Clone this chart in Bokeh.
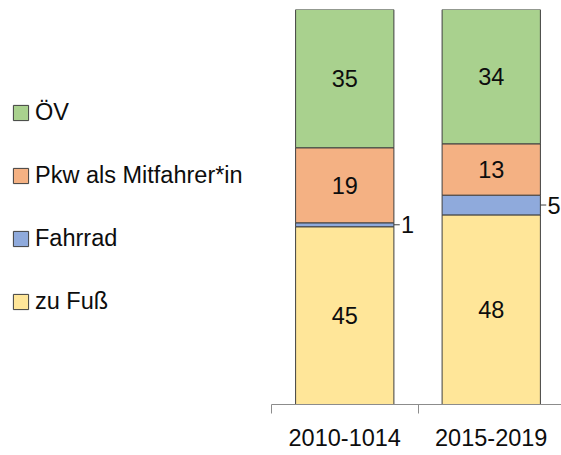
from bokeh.plotting import figure
from bokeh.models import ColumnDataSource, FixedTicker, Legend, LegendItem, Range1d
from bokeh.core.properties import value
from bokeh.embed import file_html
from bokeh.resources import INLINE

# ---- data ----
categories = ["2010-1014", "2015-2019"]
series = ["zu Fuß", "Fahrrad", "Pkw als Mitfahrer*in", "ÖV"]
zu_fuss = [45, 48]
fahrrad = [1, 5]
pkw_mitfahrer = [19, 13]
oev = [35, 34]
colors = ["#FFE699", "#8FAADC", "#F4B183", "#A9D18E"]

values = [zu_fuss, fahrrad, pkw_mitfahrer, oev]
keys = ["s0", "s1", "s2", "s3"]
xpos = [i + 0.5 for i in range(len(categories))]

data = {"x": xpos}
for k, v in zip(keys, values):
    data[k] = v
src = ColumnDataSource(data)

FONT = "Liberation Sans"
FS = "23.5px"
TXT = "#0d0d0d"
BAR_W = 0.671
UNIT = 146.5  # px per category

p = figure(width=561, height=455, output_backend="svg", toolbar_location=None,
           x_range=Range1d(-271 / UNIT, 290 / UNIT), y_range=Range1d(0, 100),
           y_axis_location=None,
           min_border_left=0, min_border_right=0, min_border_top=9,
           min_border_bottom=51)
p.outline_line_color = None
p.grid.visible = False

rends = p.vbar_stack(keys, x="x", width=BAR_W, source=src, fill_color=colors,
                     line_color="#3f3f3f", line_width=1)

# value labels
ins_x, ins_y, ins_t = [], [], []
out_x, out_y, out_t, seg_x0, seg_x1 = [], [], [], [], []
for ci, x in enumerate(xpos):
    bottom = 0
    for v in values:
        val = v[ci]
        mid = bottom + val / 2
        if val >= 8:
            ins_x.append(x); ins_y.append(mid); ins_t.append(str(val))
        else:
            seg_x0.append(x + BAR_W / 2); seg_x1.append(x + BAR_W / 2 + 0.04)
            out_x.append(x + BAR_W / 2 + 0.048); out_y.append(mid); out_t.append(str(val))
        bottom += val

p.text(x=ins_x, y=ins_y, text=ins_t, text_align="center", text_baseline="middle",
       text_font_size=FS, text_font=value(FONT), text_color=TXT)
p.segment(x0=seg_x0, y0=out_y, x1=seg_x1, y1=out_y, line_color="#3f3f3f", line_width=1)
p.text(x=out_x, y=out_y, text=out_t, text_align="left", text_baseline="middle",
       text_font_size=FS, text_font=value(FONT), text_color=TXT)

# axis
ax = p.xaxis[0]
ax.bounds = (0, 290 / UNIT)
ax.ticker = FixedTicker(ticks=xpos, minor_ticks=list(range(len(categories) + 1)))
ax.major_label_overrides = {x: c for x, c in zip(xpos, categories)}
ax.major_tick_out = 0
ax.major_tick_in = 0
ax.minor_tick_out = 9
ax.minor_tick_in = 0
ax.minor_tick_line_color = "#8c8c8c"
ax.axis_line_color = "#8c8c8c"
ax.major_label_text_font = FONT
ax.major_label_text_font_size = FS
ax.major_label_text_color = TXT
ax.major_label_standoff = 15

# legend (top to bottom reversed)
items = [LegendItem(label=series[i], renderers=[rends[i]]) for i in reversed(range(len(series)))]
legend = Legend(items=items, location=(11, 89), orientation="vertical",
                label_text_font=FONT, label_text_font_size=FS,
                label_text_color=TXT, glyph_width=19, glyph_height=19,
                label_height=25, spacing=36, label_standoff=5, padding=0, margin=0,
                border_line_color=None, background_fill_alpha=0)
p.add_layout(legend, "center")

open("out.html", "w").write(file_html(p, INLINE))
